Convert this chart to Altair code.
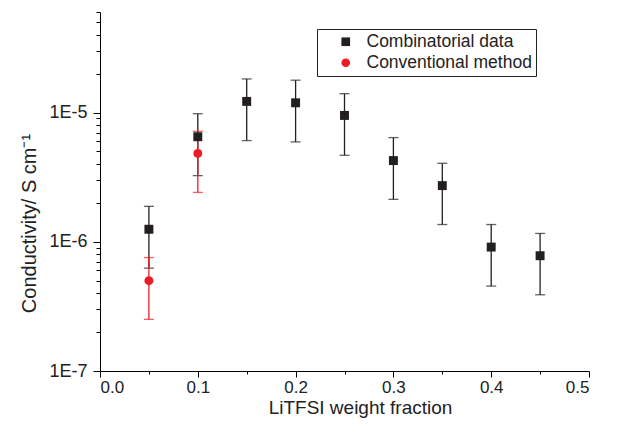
import altair as alt
import pandas as pd

# Combinatorial data (black squares)
comb_x = [0.05, 0.10, 0.15, 0.20, 0.25, 0.30, 0.35, 0.40, 0.45]
comb_y = [1.25e-6, 6.5e-6, 1.22e-5, 1.19e-5, 9.5e-6, 4.25e-6, 2.72e-6, 9.1e-7, 7.8e-7]
comb_hi = [1.88e-6, 9.8e-6, 1.82e-5, 1.78e-5, 1.40e-5, 6.4e-6, 4.05e-6, 1.36e-6, 1.16e-6]
comb_lo = [6.25e-7, 3.25e-6, 6.07e-6, 5.93e-6, 4.67e-6, 2.13e-6, 1.36e-6, 4.54e-7, 3.89e-7]

# Conventional method (red circles)
conv_x = [0.05, 0.10]
conv_y = [5.0e-7, 4.83e-6]
conv_hi = [7.55e-7, 7.16e-6]
conv_lo = [2.51e-7, 2.41e-6]

series_names = ["Combinatorial data", "Conventional method"]
series_colors = ["#231f20", "#ed1c24"]
series_shapes = ["square", "circle"]

x_ticks = [0.0, 0.05, 0.1, 0.15, 0.2, 0.25, 0.3, 0.35, 0.4, 0.45, 0.5]
y_ticks = [k * 10.0 ** e for e in (-7, -6) for k in range(1, 10)] + [k * 1e-5 for k in range(1, 7)]

comb = pd.DataFrame({"x": comb_x, "y": comb_y, "lo": comb_lo, "hi": comb_hi,
                     "series": series_names[0]})
conv = pd.DataFrame({"x": conv_x, "y": conv_y, "lo": conv_lo, "hi": conv_hi,
                     "series": series_names[1]})
allpts = pd.concat([comb, conv], ignore_index=True)

FONT = "Liberation Sans"

major_y = "abs(log(datum.value)/LN10 - round(log(datum.value)/LN10)) < 0.001"
major_x = "abs(datum.value*10 - round(datum.value*10)) < 0.001"

x_enc = alt.X("x:Q",
              scale=alt.Scale(domain=[0, 0.5], nice=False, zero=False),
              axis=alt.Axis(values=x_ticks,
                            labelExpr=f"{major_x} ? format(datum.value, '.1f') : ''",
                            tickSize={"condition": {"test": major_x, "value": 6}, "value": 3},
                            labelPadding=2, labelFontSize=17,
                            title="LiTFSI weight fraction", titleFontSize=19,
                            titleX=260, titleY=42, titleBaseline="alphabetic",
                            titleAlign="center"))
y_enc = alt.Y("y:Q",
              scale=alt.Scale(type="log", domain=[1e-7, 6e-5], nice=False),
              axis=alt.Axis(values=y_ticks,
                            labelExpr=f"{major_y} ? '1E' + round(log(datum.value)/LN10) : ''",
                            tickSize={"condition": {"test": major_y, "value": 7}, "value": 4},
                            labelPadding=6,
                            title="Conductivity/ S cm\u207b\u00b9",
                            titleAngle=270, titleX=-65, titleY=211,
                            titleBaseline="alphabetic", titleAlign="center"))

base_comb = alt.Chart(comb)
base_conv = alt.Chart(conv)

comb_bars = base_comb.mark_rule(strokeWidth=1.3, color=series_colors[0]).encode(
    x=x_enc, y=y_enc, y2="hi:Q")
comb_bars_lo = base_comb.mark_rule(strokeWidth=1.3, color=series_colors[0]).encode(
    x="x:Q", y="lo:Q", y2="y:Q")
comb_cap_hi = base_comb.mark_tick(orient="horizontal", size=10, thickness=1.3,
                                  color=series_colors[0]).encode(x="x:Q", y="hi:Q")
comb_cap_lo = base_comb.mark_tick(orient="horizontal", size=10, thickness=1.3,
                                  color=series_colors[0]).encode(x="x:Q", y="lo:Q")

conv_bars = base_conv.mark_rule(strokeWidth=1.3, color=series_colors[1]).encode(
    x="x:Q", y="lo:Q", y2="hi:Q")
conv_cap_hi = base_conv.mark_tick(orient="horizontal", size=10, thickness=1.3,
                                  color=series_colors[1]).encode(x="x:Q", y="hi:Q")
conv_cap_lo = base_conv.mark_tick(orient="horizontal", size=10, thickness=1.3,
                                  color=series_colors[1]).encode(x="x:Q", y="lo:Q")

points = alt.Chart(allpts).mark_point(filled=True, size=80, opacity=1).encode(
    x="x:Q", y="y:Q",
    color=alt.Color("series:N",
                    scale=alt.Scale(domain=series_names, range=series_colors),
                    legend=alt.Legend(title=None)),
    shape=alt.Shape("series:N",
                    scale=alt.Scale(domain=series_names, range=series_shapes),
                    legend=alt.Legend(title=None)),
)

chart = alt.layer(
    comb_bars, comb_bars_lo, comb_cap_hi, comb_cap_lo,
    conv_bars, conv_cap_hi, conv_cap_lo,
    points,
).properties(
    width=489, height=359,
    autosize=alt.AutoSizeParams(type="none"),
    padding={"left": 92, "top": 4, "right": 22, "bottom": 47},
).configure_view(stroke=None).configure_axis(
    grid=False,
    domainColor="black", domainWidth=1,
    tickColor="black", tickWidth=1,
    labelColor="#222222", labelFont=FONT, labelFontSize=18,
    titleColor="#222222", titleFont=FONT, titleFontSize=20, titleFontWeight="normal",
).configure_legend(
    orient="none", legendX=217, legendY=17,
    strokeColor="#222222", fillColor="white", padding=4,
    labelFont=FONT, labelFontSize=17.5, labelColor="#222222", labelLimit=400,
    symbolSize=75, symbolStrokeWidth=0, symbolOffset=16, labelOffset=12,
    rowPadding=2,
)

chart.save("out.html", embed_options={"renderer": "svg", "actions": False})
